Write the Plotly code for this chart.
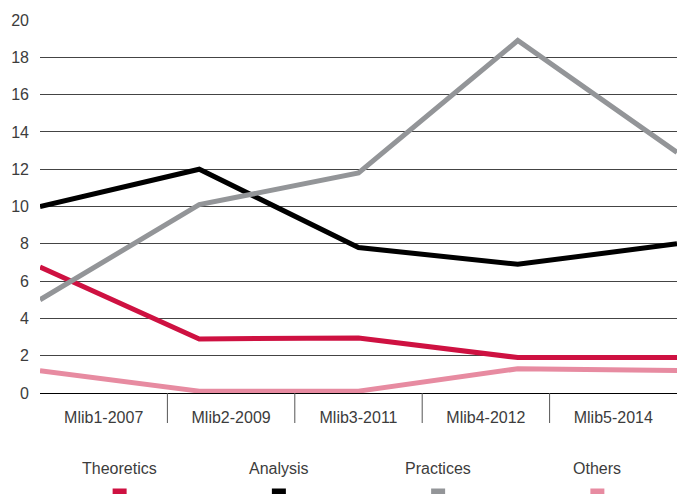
import plotly.graph_objects as go

categories = ["Mlib1-2007", "Mlib2-2009", "Mlib3-2011", "Mlib4-2012", "Mlib5-2014"]
series_names = ["Theoretics", "Analysis", "Practices", "Others"]
theoretics = [6.75, 2.9, 2.95, 1.9, 1.9]
analysis = [10.0, 12.0, 7.8, 6.9, 8.0]
practices = [5.0, 10.1, 11.8, 18.9, 12.9]
others = [1.2, 0.1, 0.1, 1.3, 1.2]
colors = ["#CE1141", "#000000", "#939598", "#E78BA1"]
y_ticks = list(range(0, 21, 2))

series_values = [theoretics, analysis, practices, others]
n = len(categories)
pos = list(range(n))
span = n - 1

fig = go.Figure()
for name, vals, col in zip(series_names, series_values, colors):
    fig.add_trace(go.Scatter(
        x=pos, y=vals, mode="lines", name=name,
        line=dict(color=col, width=5), showlegend=False, hoverinfo="skip",
    ))

font_family = "Liberation Sans, Arial, sans-serif"
text_color = "#3c3c3c"
plot_h = 373

tickvals = [(i + 0.5) * span / n for i in range(n)]
shapes = []
for i in range(1, n):
    xv = i * span / n
    shapes.append(dict(type="line", xref="x", yref="paper", x0=xv, x1=xv,
                       y0=0, y1=-30 / plot_h, line=dict(color="#555555", width=1)))

annotations = []
m = len(series_names)
for j, (name, col) in enumerate(zip(series_names, colors)):
    cx = (j + 0.5) / m
    annotations.append(dict(x=cx, y=(393 - 469) / plot_h, xref="paper", yref="paper",
                            text=name, showarrow=False, xanchor="center", yanchor="middle",
                            font=dict(size=16, color=text_color, family=font_family)))
    shapes.append(dict(type="rect", xref="paper", yref="paper",
                       xsizemode="pixel", ysizemode="pixel",
                       xanchor=cx, yanchor=(393 - 492) / plot_h,
                       x0=-7, x1=7, y0=-3.5, y1=3.5,
                       fillcolor=col, line=dict(width=0)))

fig.update_layout(
    width=677, height=494,
    margin=dict(l=40, r=0, t=20, b=101),
    paper_bgcolor="white", plot_bgcolor="white",
    font=dict(family=font_family, size=16, color=text_color),
    xaxis=dict(range=[0, span], tickvals=tickvals, ticktext=categories,
               showgrid=False, zeroline=False, showline=True, linecolor="#000000",
               linewidth=1, ticks="", ticklabelstandoff=10, automargin=False,
               tickfont=dict(size=16, color=text_color)),
    yaxis=dict(range=[0, 20], tickvals=y_ticks, showgrid=True, gridcolor="#444444",
               gridwidth=1, zeroline=False, showline=False, ticks="", automargin=False,
               ticklabelstandoff=10, tickfont=dict(size=16, color=text_color)),
    shapes=shapes, annotations=annotations,
)

fig.write_html("out.html", config={"displayModeBar": False},
               post_script="document.body.style.margin='0';document.body.style.overflow='hidden';")
